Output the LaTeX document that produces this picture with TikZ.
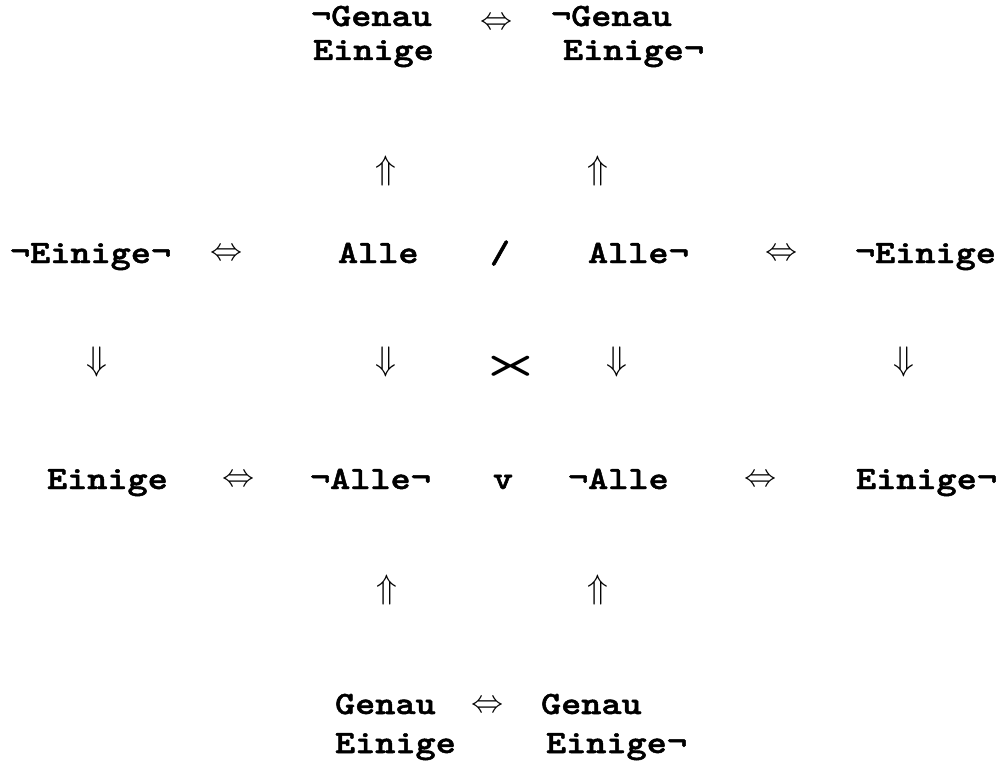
\documentclass[tikz,border=0pt]{standalone}
\usepackage{graphicx}
\usepackage{fontspec}
\newfontfamily\cour{lmmonolt10-bold}[Extension=.otf,FakeStretch=1.18,FakeBold=1.5]
\newfontfamily\courlt{lmmonolt10-bold}[Extension=.otf,FakeStretch=1.18]
% thin double arrows, enlarged past the largest Computer Modern symbol size
\newcommand\ArrIff{\scalebox{1.29}{$\Leftrightarrow$}}
\newcommand\ArrUp{\scalebox{1.37}{$\Uparrow$}}
\newcommand\ArrDown{\scalebox{1.37}{$\Downarrow$}}
\begin{document}
\begin{tikzpicture}[x=1pt,y=-1pt,
  word/.style={anchor=base west,inner sep=0pt,outer sep=0pt,
    font=\cour\fontsize{32.5}{32.5}\selectfont},
  sym/.style={anchor=base,inner sep=0pt,outer sep=0pt,
    font=\cour\fontsize{32.5}{32.5}\selectfont},
  iff/.style={anchor=center,inner sep=0pt,outer sep=0pt,
    font=\fontsize{24.88}{24.88}\selectfont},
  imp/.style={anchor=center,inner sep=0pt,outer sep=0pt,
    font=\fontsize{24.88}{24.88}\selectfont}]
\useasboundingbox (0,0) rectangle (998,765);
% top pair
\node[word] (tgl) at (311,26) {¬Genau};
\node[iff]  (teq) at (497,24) {\ArrIff};
\node[word] (tgr) at (551,26) {¬Genau};
\node[word] (tel) at (313,60) {Einige};
\node[word] (ter) at (563,60) {Einige¬};
\node[imp]  (tul) at (386,171) {\ArrUp};
\node[imp]  (tur) at (598,171) {\ArrUp};
% upper row
\node[word] (ul1) at (10,263) {¬Einige¬};
\node[iff]  (ueq1) at (227,255) {\ArrIff};
\node[word] (ul2) at (338,263) {Alle};
\node[sym]  (usl) at (500,263) {/};
\node[word] (ur2) at (588,263) {Alle¬};
\node[iff]  (ueq2) at (782,255) {\ArrIff};
\node[word] (ur1) at (855,263) {¬Einige};
% implications down
\node[imp] (d1) at (97,362) {\ArrDown};
\node[imp] (d2) at (386,362) {\ArrDown};
\node[anchor=center,inner sep=0pt] (dx) at (511,367)
  {\courlt\fontsize{40}{40}\selectfont >\kern-7pt<};
\node[imp] (d3) at (617,362) {\ArrDown};
\node[imp] (d4) at (904,362) {\ArrDown};
% lower row
\node[word] (ll1) at (47,489) {Einige};
\node[iff]  (leq1) at (239,481) {\ArrIff};
\node[word] (ll2) at (310,489) {¬Alle¬};
\node[sym]  (lv) at (503,489) {v};
\node[word] (lr2) at (568,489) {¬Alle};
\node[iff]  (leq2) at (761,481) {\ArrIff};
\node[word] (lr1) at (856,489) {Einige¬};
% bottom pair
\node[imp]  (bul) at (387,590) {\ArrUp};
\node[imp]  (bur) at (598,590) {\ArrUp};
\node[word] (bgl) at (335,714) {Genau};
\node[iff]  (beq) at (488,707) {\ArrIff};
\node[word] (bgr) at (541,714) {Genau};
\node[word] (bel) at (335,753) {Einige};
\node[word] (ber) at (546,753) {Einige¬};
\end{tikzpicture}
\end{document}
